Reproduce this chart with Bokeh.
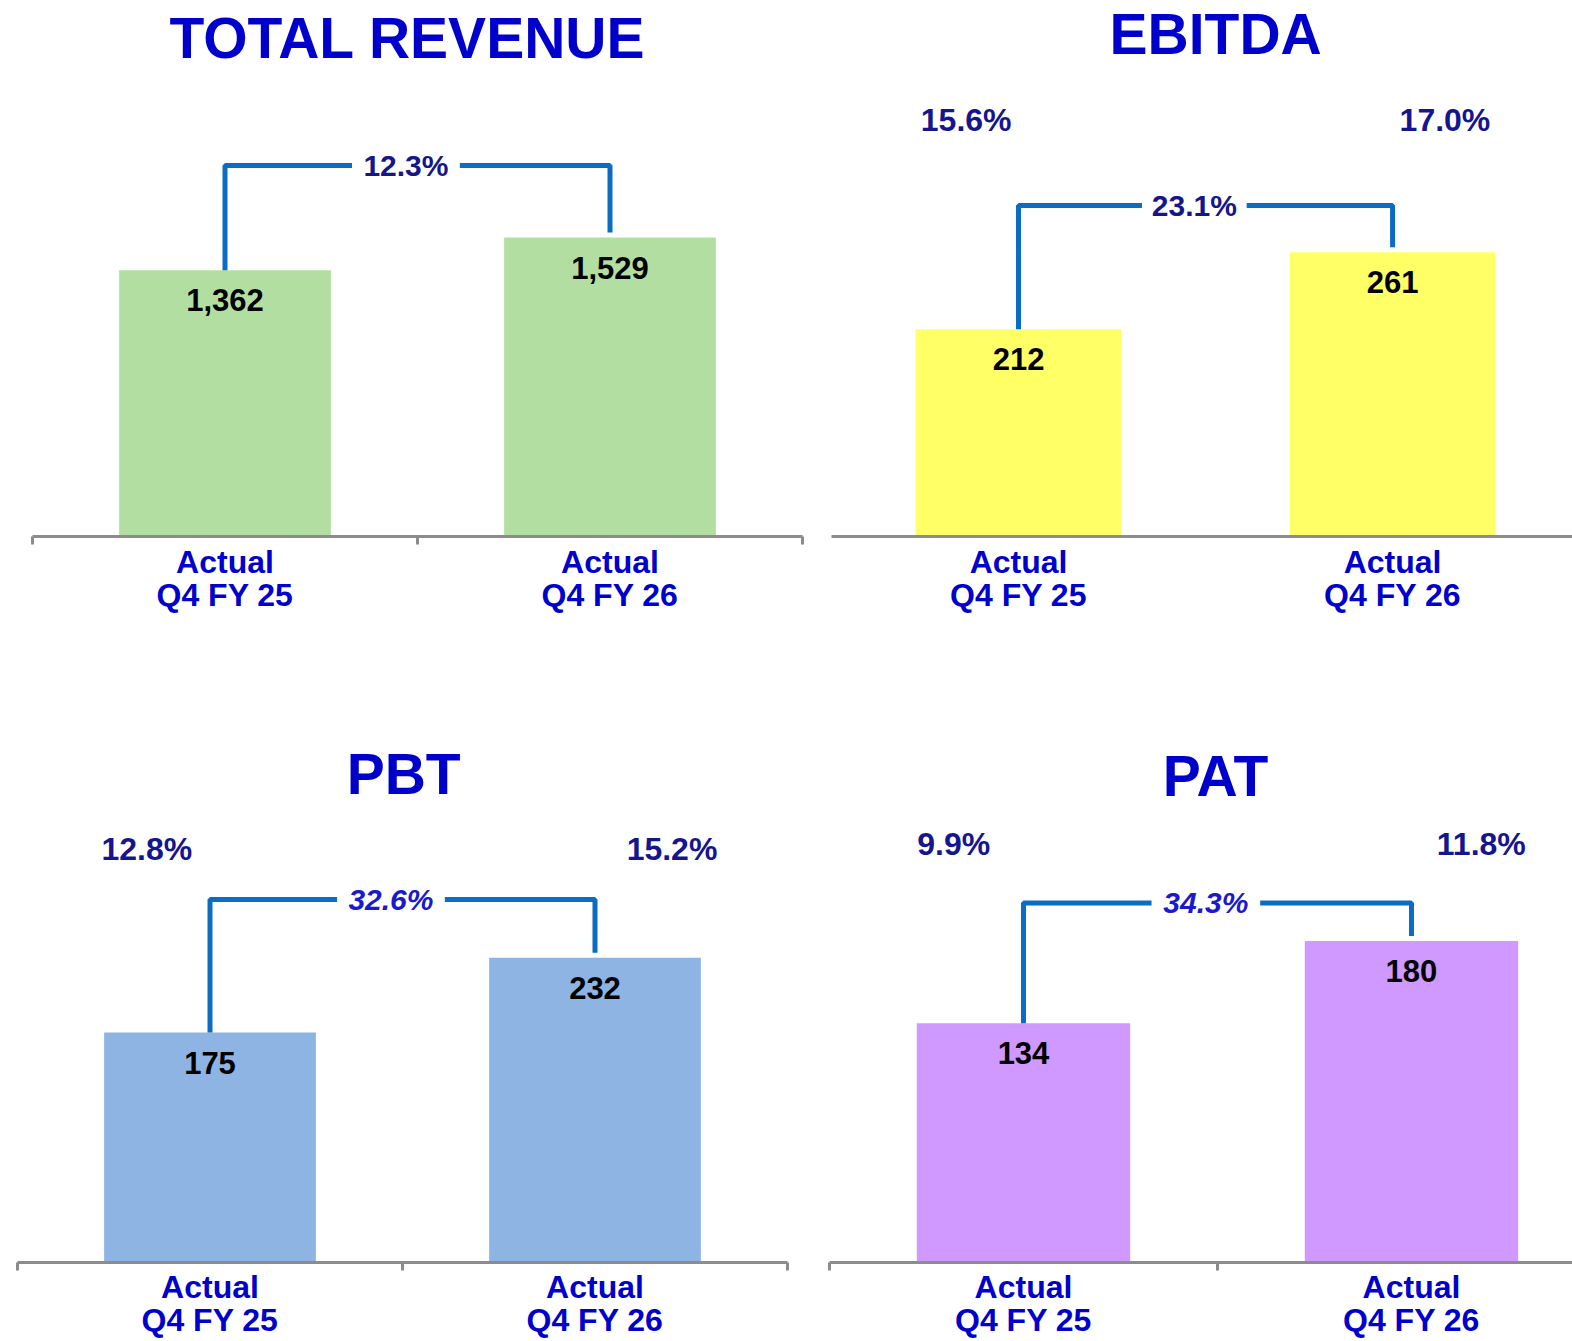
from bokeh.plotting import figure
from bokeh.layouts import column, row
from bokeh.models import Range1d, FixedTicker
from bokeh.core.properties import value
from bokeh.embed import file_html
from bokeh.resources import INLINE

# ---------------- data ----------------
period_prefix = "Actual"
periods = ["Q4 FY 25", "Q4 FY 26"]

revenue = [1362, 1529]
revenue_growth = "12.3%"

ebitda = [212, 261]
ebitda_margin = ["15.6%", "17.0%"]
ebitda_growth = "23.1%"

pbt = [175, 232]
pbt_margin = ["12.8%", "15.2%"]
pbt_growth = "32.6%"

pat = [134, 180]
pat_margin = ["9.9%", "11.8%"]
pat_growth = "34.3%"

FONT = "Liberation Sans"
FONT_V = value(FONT)
TITLE_BLUE = "#0000CC"
NAVY = "#15158F"
BRIGHT = "#1A1ACC"
BRACKET = "#0A6CC2"
AXIS_GREY = "#8C8C8C"

# ---------------- layout per panel (pixel placement, not data) ----------------
layouts = {
    "rev": dict(w=815, h=670, bl=32, br=13, bb=134, x_end=2.0, scale=0.1955,
                y_start=0, title_px=37, title_x=0.974, bracket_px=165,
                margin_px=None, mshift=(0, 0), minor=[0, 1, 2], standoff=-1),
    "ebitda": dict(w=757, h=670, bl=16, br=0, bb=134, x_end=1.981, scale=1.571,
                   y_start=80, title_px=33, title_x=1.027, bracket_px=205,
                   margin_px=119, mshift=(-0.14, 0.14), minor=[], standoff=7),
    "pbt": dict(w=815, h=671, bl=17, br=28, bb=79, x_end=2.0, scale=1.314,
                y_start=0, title_px=103, title_x=1.003, bracket_px=229,
                margin_px=178, mshift=(-0.164, 0.2), minor=[0, 1, 2], standoff=-2),
    "pat": dict(w=757, h=671, bl=14, br=0, bb=75, x_end=1.915, scale=1.798,
                y_start=0, title_px=106, title_x=0.995, bracket_px=234,
                margin_px=175, mshift=(-0.18, 0.18), minor=[0, 1, 2], standoff=-2),
}


def panel(title, vals, growth, margins, colour, g, italic):
    frame_h = g["h"] - g["bb"]
    scale = g["scale"]  # px per unit

    def y_at(px):
        return g["y_start"] + (frame_h - px) / scale

    p = figure(width=g["w"], height=g["h"],
               x_range=Range1d(0, g["x_end"]),
               y_range=Range1d(g["y_start"], y_at(0)),
               min_border_left=g["bl"], min_border_right=g["br"],
               min_border_top=0, min_border_bottom=g["bb"],
               toolbar_location=None, tools="", output_backend="svg",
               y_axis_location=None)
    p.outline_line_color = None
    p.grid.visible = False
    p.background_fill_color = "white"
    p.border_fill_color = "white"

    centers = [i + 0.5 for i in range(len(vals))]

    ax = p.xaxis[0]
    ax.ticker = FixedTicker(ticks=centers, minor_ticks=g["minor"])
    ax.major_label_overrides = {c: f"{period_prefix}\n{per}" for c, per in zip(centers, periods)}
    ax.major_tick_line_color = None
    ax.major_tick_out = 0
    ax.major_tick_in = 0
    ax.minor_tick_out = 8
    ax.minor_tick_in = 0
    ax.minor_tick_line_width = 3
    ax.minor_tick_line_color = AXIS_GREY if g["minor"] else None
    ax.axis_line_color = AXIS_GREY
    ax.axis_line_width = 3
    ax.major_label_text_font = FONT
    ax.major_label_text_font_size = "32px"
    ax.major_label_text_font_style = "bold"
    ax.major_label_text_color = TITLE_BLUE
    ax.major_label_text_line_height = 0.92
    ax.major_label_standoff = g["standoff"]

    # panel heading
    p.text(x=[g["title_x"]], y=[y_at(g["title_px"])], text=[title],
           text_font=FONT_V, text_font_size="57px", text_font_style="bold",
           text_color=TITLE_BLUE, text_align="center", text_baseline="middle")

    p.vbar(x=centers, top=vals, width=0.55, bottom=g["y_start"] - 1000,
           fill_color=colour, line_color=None)
    p.text(x=centers, y=vals, text=[f"{v:,}" for v in vals],
           text_font=FONT_V, text_font_size="31px", text_font_style="bold",
           text_color="black", text_align="center", text_baseline="middle",
           y_offset=30)

    # growth bracket
    lvl = y_at(g["bracket_px"])
    x0, x1 = centers[0], centers[1]
    mid = (x0 + x1) / 2 - 0.03
    gap = 0.14
    drop = 5 / scale
    p.line([x0, x0, mid - gap], [vals[0], lvl, lvl], line_color=BRACKET, line_width=5)
    p.line([mid + gap, x1, x1], [lvl, lvl, vals[1] + drop], line_color=BRACKET, line_width=5)
    p.text(x=[mid], y=[lvl], text=[growth], text_font=FONT_V,
           text_font_size="30px", text_font_style="bold italic" if italic else "bold",
           text_color=BRIGHT if italic else NAVY, text_align="center",
           text_baseline="middle")

    if margins:
        mx = [c + s for c, s in zip(centers, g["mshift"])]
        my = y_at(g["margin_px"])
        p.text(x=mx, y=[my] * len(mx), text=margins, text_font=FONT_V,
               text_font_size="32px", text_font_style="bold", text_color=NAVY,
               text_align="center", text_baseline="middle")
    return p


p1 = panel("TOTAL REVENUE", revenue, revenue_growth, None, "#B2DFA1", layouts["rev"], False)
p2 = panel("EBITDA", ebitda, ebitda_growth, ebitda_margin, "#FFFF66", layouts["ebitda"], False)
p3 = panel("PBT", pbt, pbt_growth, pbt_margin, "#8EB4E3", layouts["pbt"], True)
p4 = panel("PAT", pat, pat_growth, pat_margin, "#CF99FF", layouts["pat"], True)

page = column(row(p1, p2, spacing=0), row(p3, p4, spacing=0), spacing=0)
open("out.html", "w").write(file_html(page, INLINE))
